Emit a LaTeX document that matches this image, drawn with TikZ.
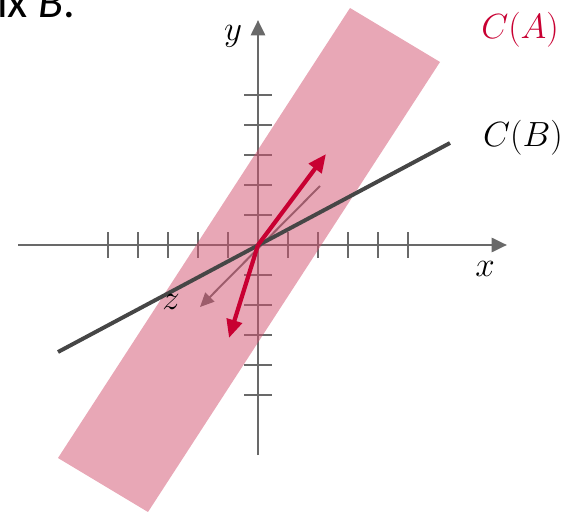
\documentclass[tikz,border=0pt]{standalone}
\usepackage{fontspec}
\newfontfamily\bodyfont{Carlito}
\usetikzlibrary{arrows.meta, positioning, calc}
\definecolor{crimson}{RGB}{200,0,50}
\definecolor{axisgray}{RGB}{105,105,105}
\definecolor{bandpink}{RGB}{210,80,110}
\definecolor{linegray}{RGB}{70,70,70}
\tikzstyle{axis} = [axisgray, line width=2.1pt, -{Triangle[length=11pt,width=10pt]}]
\tikzstyle{vec} = [crimson, line width=3pt, -{Triangle[length=13pt,width=11pt]}]

\begin{document}
\begin{tikzpicture}[x=0.025cm, y=-0.025cm,
        tick/.style={axisgray, line width=2.1pt},
        zaxis/.style={axisgray, line width=1.4pt, -{Triangle[length=10pt,width=9pt]}},
        band/.style={fill=bandpink, opacity=0.5},
        lbl/.style={font=\fontsize{27}{32}\selectfont},
    ]
        \useasboundingbox (0,0) rectangle (580,512);
        \clip (0,0) rectangle (580,512);

        % cut-off text above the picture
        \node[anchor=base west, inner sep=0pt, font=\bodyfont\fontsize{33}{38}\selectfont] (caption) at (-3,18) {ix \textit{B}.};

        \coordinate (O) at (258,245);
        \coordinate (xl) at (18,245);
        \coordinate (xr) at (507,245);
        \coordinate (yb) at (258,455);
        \coordinate (yt) at (258,20);

        % axes and ticks
        \draw[axis] (xl) -- (xr);
        \draw[axis] (yb) -- (yt);
        \foreach \i in {-5,...,-1,1,2,...,5} {
            \draw[tick] ($(O)+(30*\i,-13)$) -- ++(0,26);
            \draw[tick] ($(O)+(-14,30*\i)$) -- ++(28,0);
        }

        % z axis
        \coordinate (zt) at (320,186);
        \coordinate (zb) at (200,307);
        \draw[zaxis] (zt) -- (zb);

        % column space of A
        \fill[band] (58,458) -- (350,8) -- (440,62) -- (148,512) -- cycle;

        % column space of B
        \coordinate (bl) at (58,352);
        \coordinate (br) at (450,143);
        \draw[linegray, line width=2.8pt] (bl) -- (br);

        \coordinate (a1) at (326,154);
        \coordinate (a2) at (229,338);
        \draw[vec] (O) -- (a1);
        \draw[vec] (O) -- (a2);

        \node[lbl] (ylabel) at (233,36) {$y$};
        \node[lbl] (xlabel) at (485,269) {$x$};
        \node[lbl] (zlabel) at (171,302) {$z$};
        \node[lbl, text=crimson] (CA) at (520,30) {$C(A)$};
        \node[lbl] (CB) at (523,138) {$C(B)$};
    \end{tikzpicture}
\end{document}
